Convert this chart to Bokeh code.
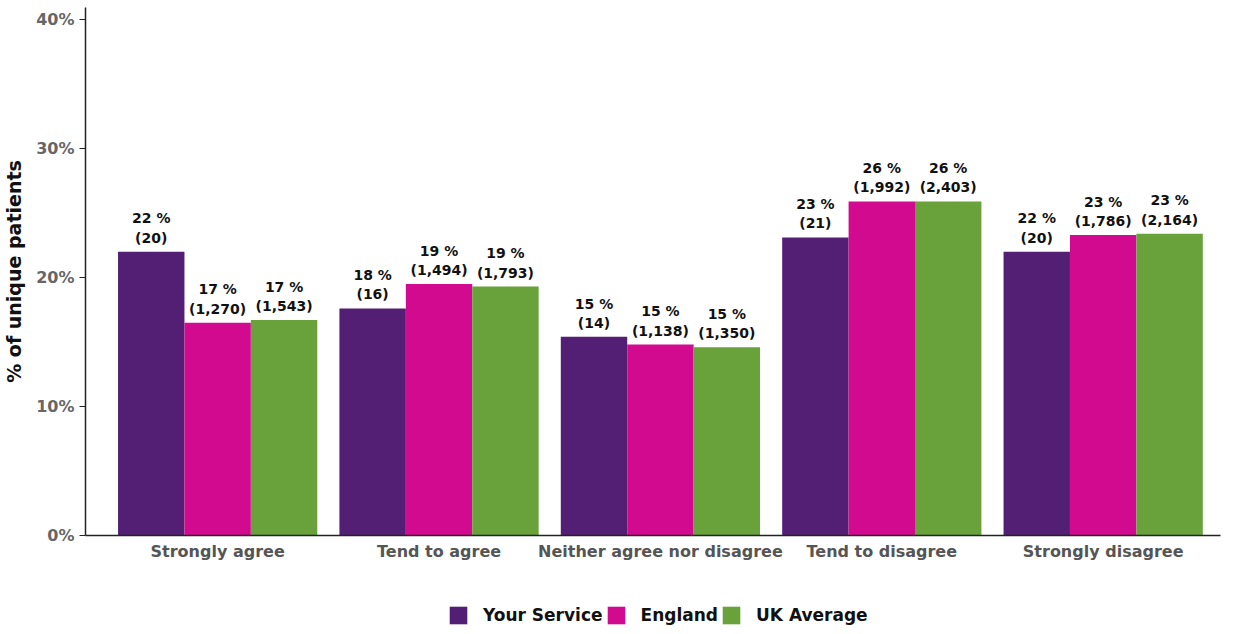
from bokeh.plotting import figure
from bokeh.layouts import column
from bokeh.models import ColumnDataSource, FixedTicker, Legend, LegendItem, Range1d
from bokeh.core.properties import value
from bokeh.embed import file_html
from bokeh.resources import INLINE

categories = ["Strongly agree", "Tend to agree", "Neither agree nor disagree",
              "Tend to disagree", "Strongly disagree"]
series_names = ["Your Service", "England", "UK Average"]
your_service = [22.0, 17.6, 15.4, 23.1, 22.0]
england = [16.5, 19.5, 14.8, 25.9, 23.3]
uk_average = [16.7, 19.3, 14.6, 25.9, 23.4]
your_service_pct = [22, 18, 15, 23, 22]
england_pct = [17, 19, 15, 26, 23]
uk_average_pct = [17, 19, 15, 26, 23]
your_service_n = [20, 16, 14, 21, 20]
england_n = [1270, 1494, 1138, 1992, 1786]
uk_average_n = [1543, 1793, 1350, 2403, 2164]
colors = ["#521f75", "#d10a8f", "#69a23a"]
y_ticks = [0, 10, 20, 30, 40]

FONT = "DejaVu Sans"
bar_w = 0.3
offsets = [-bar_w, 0.0, bar_w]

p = figure(width=1225, height=575, output_backend="svg", toolbar_location=None,
           x_range=Range1d(-0.597, 4.53), y_range=Range1d(0, 40.93),
           min_border_left=78, min_border_right=5, min_border_top=7,
           min_border_bottom=40)
p.outline_line_color = None
p.xgrid.grid_line_color = None
p.ygrid.grid_line_color = None

vals = [your_service, england, uk_average]
pcts = [your_service_pct, england_pct, uk_average_pct]
ns = [your_service_n, england_n, uk_average_n]
for k in range(3):
    xs = [i + offsets[k] for i in range(len(categories))]
    labels = [f"{pc} %\n({n:,})" for pc, n in zip(pcts[k], ns[k])]
    src = ColumnDataSource(dict(x=xs, top=vals[k], label=labels))
    p.vbar(x="x", top="top", width=bar_w, bottom=0, source=src,
           fill_color=colors[k], line_color=None)
    p.text(x="x", y="top", text="label", source=src, text_align="center",
           text_baseline="bottom", y_offset=-6, text_font=value(FONT),
           text_font_style="bold", text_font_size="14px", text_color="#111111",
           text_line_height=1.2)

p.xaxis.ticker = FixedTicker(ticks=list(range(len(categories))))
p.xaxis.major_label_overrides = {i: c for i, c in enumerate(categories)}
p.xaxis.major_tick_line_color = None
p.xaxis.minor_tick_line_color = None
p.xaxis.axis_line_color = "#222222"
p.xaxis.axis_line_width = 1.5
p.xaxis.major_label_text_font = FONT
p.xaxis.major_label_text_font_style = "bold"
p.xaxis.major_label_text_font_size = "16px"
p.xaxis.major_label_text_color = "#555555"
p.xaxis.major_label_standoff = 0

p.yaxis.ticker = FixedTicker(ticks=y_ticks)
p.yaxis.major_label_overrides = {t: f"{t}%" for t in y_ticks}
p.yaxis.minor_tick_line_color = None
p.yaxis.major_tick_in = 0
p.yaxis.major_tick_out = 6
p.yaxis.major_tick_line_color = "#222222"
p.yaxis.axis_line_color = "#222222"
p.yaxis.axis_line_width = 1.5
p.yaxis.major_label_text_font = FONT
p.yaxis.major_label_text_font_style = "bold"
p.yaxis.major_label_text_font_size = "16px"
p.yaxis.major_label_text_color = "#666666"
p.yaxis.axis_label = "% of unique patients"
p.yaxis.axis_label_text_font = FONT
p.yaxis.axis_label_text_font_style = "bold"
p.yaxis.axis_label_text_font_size = "19px"
p.yaxis.axis_label_text_color = "#111111"
p.yaxis.axis_label_standoff = 8

# legend strip (swatch renderers hold no drawable data)
lg = figure(width=1225, height=51, output_backend="svg", toolbar_location=None,
            x_range=Range1d(0, 1), y_range=Range1d(0, 1),
            x_axis_type=None, y_axis_type=None,
            min_border_left=0, min_border_right=0, min_border_top=0,
            min_border_bottom=0)
lg.outline_line_color = None
swatches = []
for k in range(3):
    empty = ColumnDataSource(dict(x=[float("nan")], top=[float("nan")]))
    swatches.append(lg.vbar(x="x", top="top", width=0.1, source=empty,
                            fill_color=colors[k], line_color=None))
legend = Legend(items=[LegendItem(label=series_names[k], renderers=[swatches[k]])
                       for k in range(3)],
                orientation="horizontal", location=(362, 0),
                glyph_width=22, glyph_height=22, spacing=2, label_standoff=14,
                padding=0, margin=0,
                label_text_font=FONT, label_text_font_style="bold",
                label_text_font_size="17px", label_text_color="#111111",
                border_line_color=None, background_fill_alpha=0)
lg.add_layout(legend, "center")

layout = column(p, lg, spacing=0)
open("out.html", "w").write(file_html(layout, INLINE))
